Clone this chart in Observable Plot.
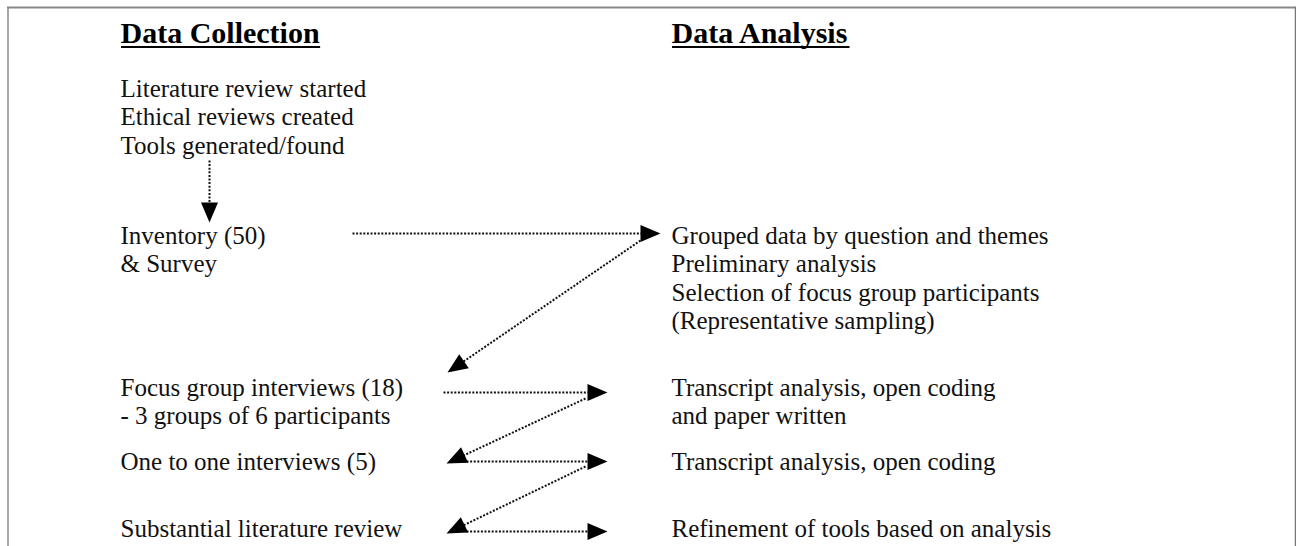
<!DOCTYPE html>
<html><head><meta charset="utf-8">
<script src="https://cdn.jsdelivr.net/npm/d3@7"></script>
<script src="https://cdn.jsdelivr.net/npm/@observablehq/plot@0.6"></script>
<style>html,body{margin:0;padding:0;background:#fff;overflow:hidden;} #chart{width:1296px;height:546px;}</style>
</head><body><div id="chart"></div>
<script>
// ---- content ----
const headings = ["Data Collection", "Data Analysis"];
const collectionSteps = [
  ["Literature review started", "Ethical reviews created", "Tools generated/found"],
  ["Inventory (50)", "& Survey"],
  ["Focus group interviews (18)", "- 3 groups of 6 participants"],
  ["One to one interviews (5)"],
  ["Substantial literature review"]
];
const analysisSteps = [
  [],
  ["Grouped data by question and themes", "Preliminary analysis", "Selection of focus group participants", "(Representative sampling)"],
  ["Transcript analysis, open coding", "and paper written"],
  ["Transcript analysis, open coding"],
  ["Refinement of tools based on analysis"]
];

// ---- layout (diagram coordinates, 1 unit = 1 px) ----
const columnX = [120, 671];
const headingBaseline = 42;
const stepBaselines = [96, 243, 395, 469, 536];
const lineStep = 28.6;
const arrowPaths = [
  {x1: 209, y1: 160, x2: 209, y2: 222},
  {x1: 352, y1: 233, x2: 660, y2: 233},
  {x1: 640, y1: 240, x2: 447, y2: 372},
  {x1: 443, y1: 392, x2: 607, y2: 392},
  {x1: 585, y1: 398, x2: 446, y2: 463},
  {x1: 466, y1: 461, x2: 607, y2: 461},
  {x1: 585, y1: 466, x2: 446, y2: 533},
  {x1: 466, y1: 531, x2: 607, y2: 531}
];

const serif = "'Liberation Serif', 'Times New Roman', Times, serif";
const bodySize = 25, headSize = 30;

// table of text lines
const textRows = [];
[collectionSteps, analysisSteps].forEach((steps, col) => {
  steps.forEach((lines, s) => {
    lines.forEach((t, i) => textRows.push({text: t, x: columnX[col], y: stepBaselines[s] + i * lineStep}));
  });
});
const headingRows = headings.map((t, i) => ({text: t, x: columnX[i], y: headingBaseline}));

// underline widths measured from the font
const ctx = document.createElement("canvas").getContext("2d");
ctx.font = `bold ${headSize}px ${serif}`;
const underlines = headingRows.map(h => ({x1: h.x + 1, x2: h.x + 1 + ctx.measureText(h.text).width, y: h.y + 4.5}));

// arrow heads and shortened dotted shafts
const HEAD_L = 20, HEAD_W = 17;
const headSymbol = {
  draw(c) { c.moveTo(0, 0); c.lineTo(HEAD_W / 2, HEAD_L); c.lineTo(-HEAD_W / 2, HEAD_L); c.closePath(); }
};
const heads = arrowPaths.map(a => {
  const dx = a.x2 - a.x1, dy = a.y2 - a.y1;
  return {x: a.x2, y: a.y2, angle: Math.atan2(dx, -dy) * 180 / Math.PI};
});
const shafts = arrowPaths.map(a => {
  const dx = a.x2 - a.x1, dy = a.y2 - a.y1, len = Math.hypot(dx, dy);
  const k = (len - HEAD_L * 0.8) / len;
  return {x1: a.x1, y1: a.y1, x2: a.x1 + dx * k, y2: a.y1 + dy * k};
});

const chart = Plot.plot({
  width: 1296, height: 546, margin: 0,
  x: {domain: [0, 1296], range: [0, 1296], axis: null},
  y: {domain: [0, 546], range: [0, 546], axis: null},
  style: {background: "#fff"},
  marks: [
    Plot.ruleY([7], {x1: 7, x2: 1296, stroke: "#888", strokeWidth: 2}),
    Plot.ruleX([7.5], {y1: 7, y2: 546, stroke: "#888", strokeWidth: 1.5}),
    Plot.ruleX([1295], {y1: 7, y2: 546, stroke: "#777", strokeWidth: 1.5}),
    Plot.text(headingRows, {x: "x", y: "y", text: "text", textAnchor: "start", lineAnchor: "bottom",
      fontFamily: serif, fontSize: headSize, fontWeight: "bold", fill: "#000"}),
    Plot.ruleY(underlines, {x1: "x1", x2: "x2", y: "y", stroke: "#000", strokeWidth: 2}),
    Plot.text(textRows, {x: "x", y: "y", text: "text", textAnchor: "start", lineAnchor: "bottom",
      fontFamily: serif, fontSize: bodySize, fill: "#111"}),
    Plot.link(shafts, {x1: "x1", y1: "y1", x2: "x2", y2: "y2", stroke: "#111", strokeWidth: 2,
      strokeDasharray: "2 1.6"}),
    Plot.dot(heads, {x: "x", y: "y", rotate: "angle", symbol: headSymbol, r: 5, fill: "#000", stroke: "none"})
  ]
});
document.getElementById("chart").appendChild(chart);
</script>
</body></html>
